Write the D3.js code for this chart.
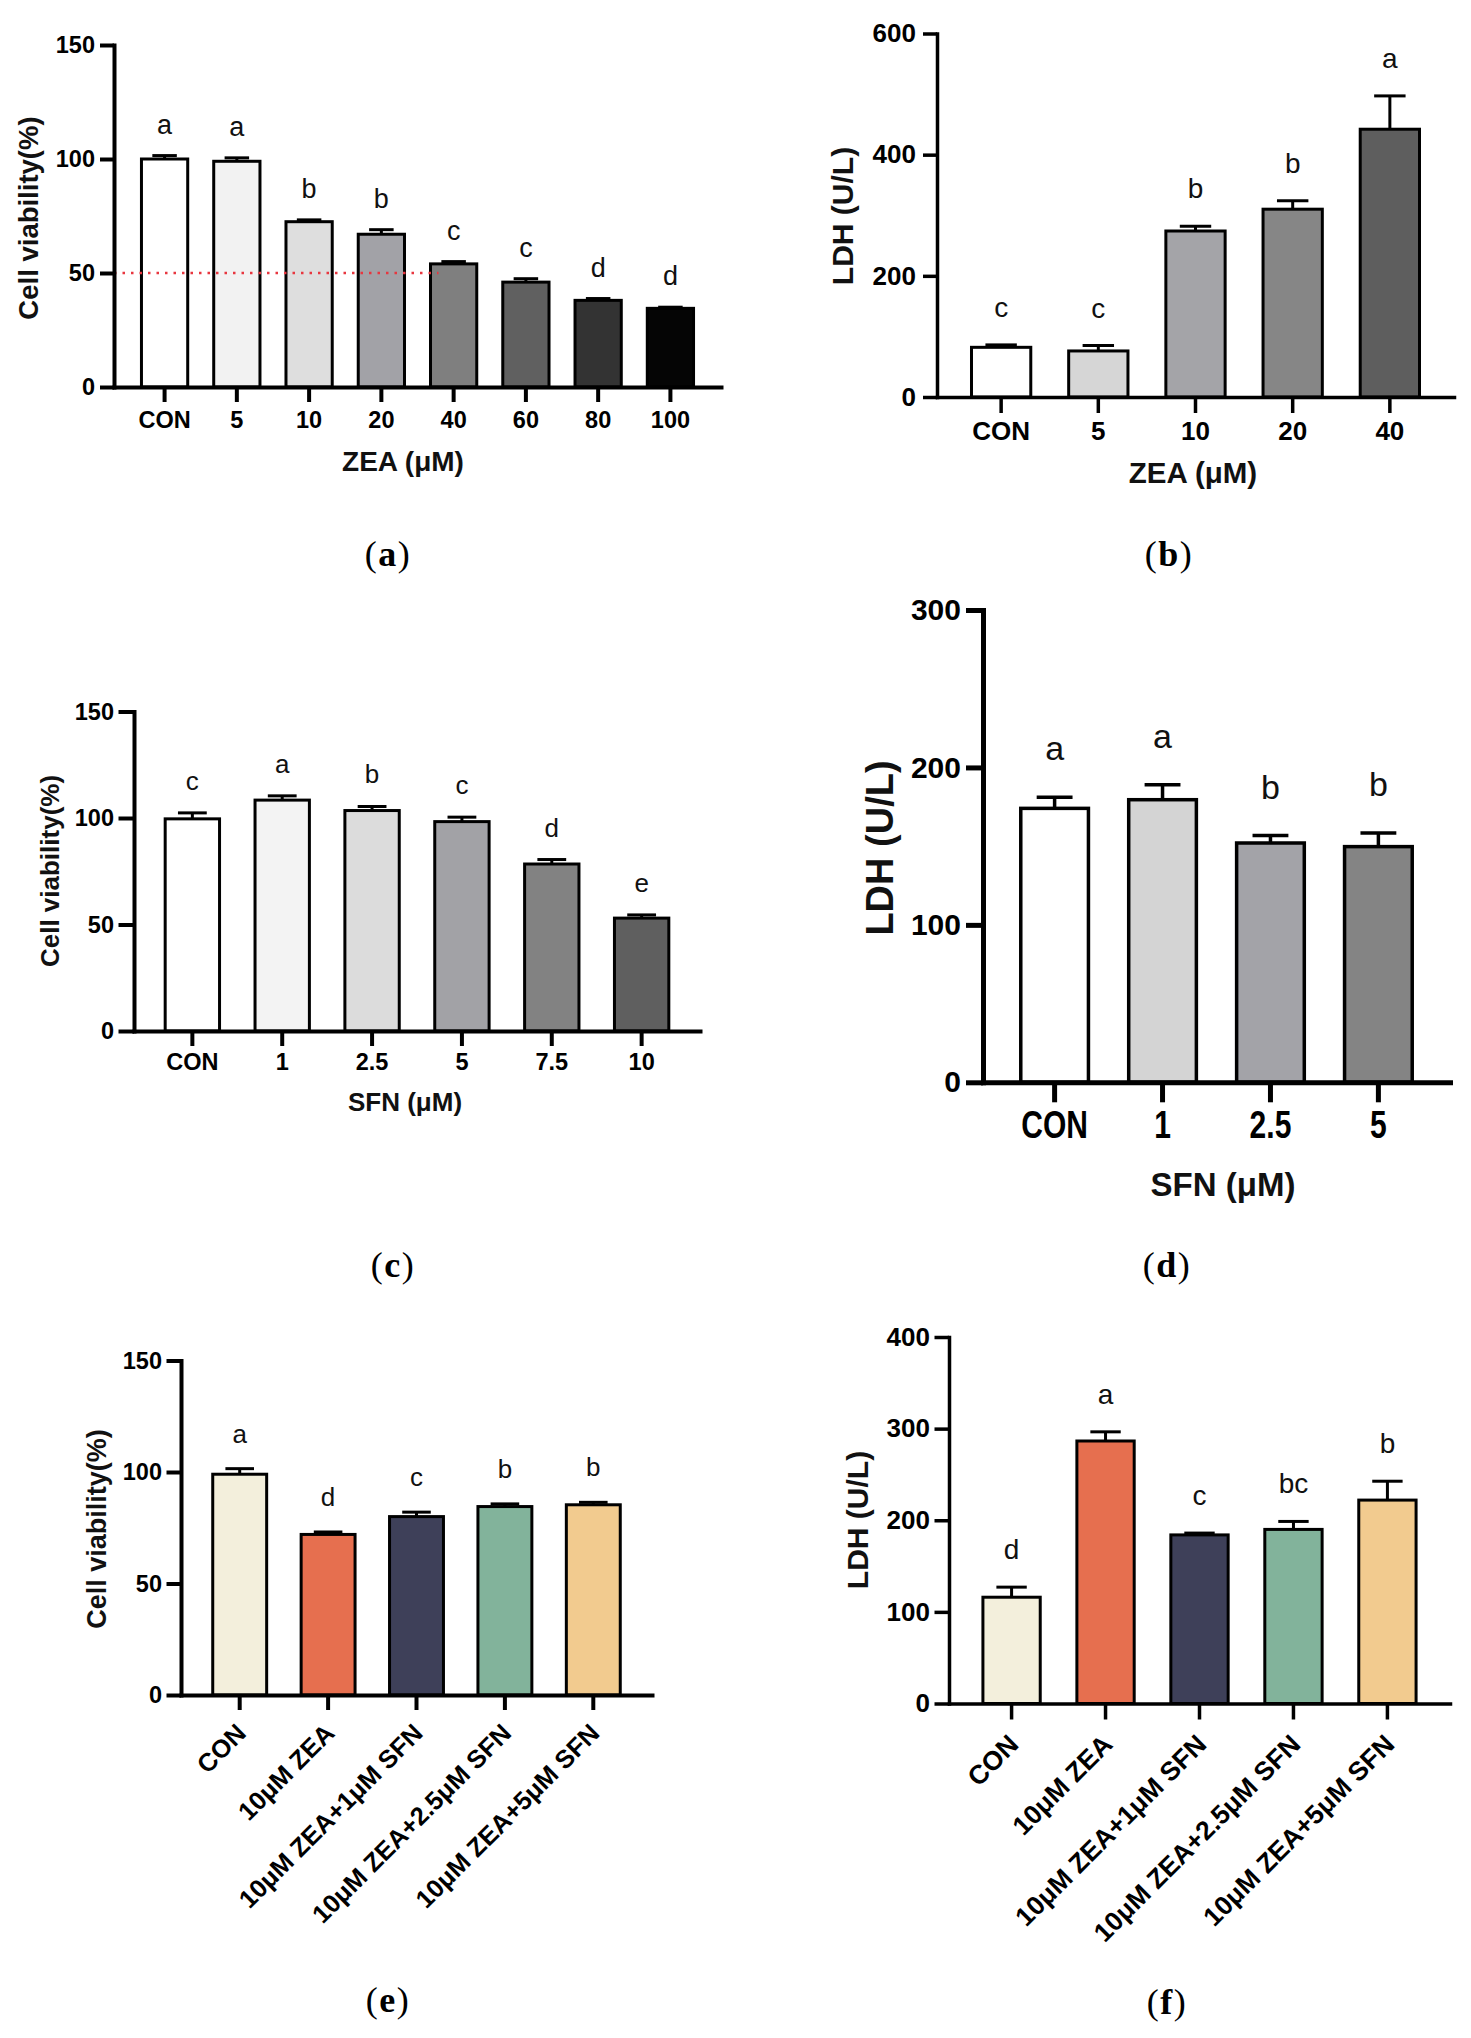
<!DOCTYPE html>
<html><head><meta charset="utf-8">
<script src="https://cdn.jsdelivr.net/npm/d3@7"></script>
<style>body{margin:0;background:#fff}svg{display:block}</style>
</head><body><svg id="fig" width="1471" height="2038"></svg>
<script>
// ---------- data ----------
const catsA = ["CON","5","10","20","40","60","80","100"];
const valsA = [100, 99, 72.5, 67, 54, 46, 38, 34.5];
const errsA = [1.5, 1.5, 0.8, 2, 1, 1.5, 0.8, 0.5];
const sigA  = ["a","a","b","b","c","c","d","d"];
const ticksA = [0, 50, 100, 150];
const refA = 50;

const catsB = ["CON","5","10","20","40"];
const valsB = [82, 76, 274, 310, 442];
const errsB = [4, 9, 8, 14, 55];
const sigB  = ["c","c","b","b","a"];
const ticksB = [0, 200, 400, 600];

const catsC = ["CON","1","2.5","5","7.5","10"];
const valsC = [99.6, 108.4, 103.5, 98.3, 78.4, 53];
const errsC = [2.8, 2, 1.9, 2.1, 2.1, 1.5];
const sigC  = ["c","a","b","c","d","e"];
const ticksC = [0, 50, 100, 150];

const catsD = ["CON","1","2.5","5"];
const valsD = [174, 179.5, 152, 149.7];
const errsD = [7, 9.5, 4.7, 8.7];
const sigD  = ["a","a","b","b"];
const ticksD = [0, 100, 200, 300];

const catsE = ["CON","10μM ZEA","10μM ZEA+1μM SFN","10μM ZEA+2.5μM SFN","10μM ZEA+5μM SFN"];
const valsE = [99, 72, 80, 84.5, 85.3];
const errsE = [2.5, 1.1, 2, 1.2, 1.1];
const sigE  = ["a","d","c","b","b"];
const ticksE = [0, 50, 100, 150];

const catsF = ["CON","10μM ZEA","10μM ZEA+1μM SFN","10μM ZEA+2.5μM SFN","10μM ZEA+5μM SFN"];
const valsF = [116, 286.5, 184, 190, 222];
const errsF = [11, 10, 2, 8.7, 20.6];
const sigF  = ["d","a","c","bc","b"];
const ticksF = [0, 100, 200, 300, 400];

// ---------- styles ----------
const greysA = ["#ffffff","#f2f2f2","#dedede","#a2a2a7","#7f7f7f","#606060","#333333","#050505"];
const greysB = ["#ffffff","#d6d6d6","#a4a4a8","#868686","#5e5e5e"];
const greysC = ["#ffffff","#f3f3f3","#dcdcdc","#a2a2a6","#828282","#5f5f5f"];
const greysD = ["#ffffff","#d4d4d4","#a3a3a8","#848484"];
const colorsEF = ["#f3efdc","#e66f4f","#3e4059","#82b39b","#f2cb8f"];

const SANS = "'Liberation Sans', Arial, Helvetica, sans-serif";
const SERIF = "'Liberation Serif', 'DejaVu Serif', 'Times New Roman', serif";

const svg = d3.select("#fig");
svg.append("rect").attr("width",1471).attr("height",2038).attr("fill","#fff");

function drawPanel(s, cats, vals, errs, sig, ticks, colors, refVal) {
  const g = svg.append("g");
  const x = d3.scaleBand().domain(cats).range([s.x0, s.x1]).paddingInner(s.pi).paddingOuter(s.po);
  const y = d3.scaleLinear().domain([0, d3.max(ticks)]).range([s.y0, s.yTop]);
  const data = cats.map((c,i)=>({c, v:vals[i], e:errs[i], s:sig[i], col:colors[i]}));
  const cx = d => x(d.c) + x.bandwidth()/2;

  // bars
  g.append("g").selectAll("rect").data(data).join("rect")
    .attr("x", d=>x(d.c)).attr("width", x.bandwidth())
    .attr("y", d=>y(d.v)).attr("height", d=>y(0)-y(d.v))
    .attr("fill", d=>d.col).attr("stroke","#000").attr("stroke-width", s.barW);

  // error bars
  const eb = g.append("g").attr("stroke","#000").attr("stroke-width", s.ebW);
  eb.selectAll("line.v").data(data).join("line").attr("class","v")
    .attr("x1",cx).attr("x2",cx).attr("y1",d=>y(d.v)).attr("y2",d=>y(d.v+d.e));
  const cap = x.bandwidth()*0.53/2;
  eb.selectAll("line.c").data(data).join("line").attr("class","c")
    .attr("x1",d=>cx(d)-cap).attr("x2",d=>cx(d)+cap).attr("y1",d=>y(d.v+d.e)).attr("y2",d=>y(d.v+d.e));

  // reference line
  if (refVal !== undefined) {
    g.append("line").attr("x1", s.x0).attr("x2", x(s.refEnd) + 8)
      .attr("y1", y(refVal)).attr("y2", y(refVal))
      .attr("stroke","#e8363f").attr("stroke-width",2.5).attr("stroke-dasharray","2.5,6");
  }

  // significance letters
  g.append("g").selectAll("text").data(data).join("text")
    .attr("x",cx).attr("y",d=>y(d.v+d.e)-s.sigOff)
    .attr("text-anchor","middle").attr("font-family",SANS).attr("font-size",s.sigFs)
    .attr("fill","#111").text(d=>d.s);

  // y axis
  const ya = g.append("g").attr("transform",`translate(${s.x0},0)`)
    .call(d3.axisLeft(y).tickValues(ticks).tickFormat(d3.format("d"))
      .tickSize(s.yTick).tickSizeOuter(0).tickPadding(s.yPad))
    .attr("font-family",SANS).attr("font-size",s.tickFs).attr("font-weight","bold");
  ya.select(".domain").attr("stroke-width",s.axW).attr("stroke-linecap","square");
  ya.selectAll(".tick line").attr("stroke-width",s.axW);

  // x axis
  const xa = g.append("g").attr("transform",`translate(0,${s.y0})`)
    .call(d3.axisBottom(x).tickSize(s.xTick).tickSizeOuter(0).tickPadding(s.xPad))
    .attr("font-family",SANS).attr("font-size",s.catFs).attr("font-weight","bold");
  xa.select(".domain").attr("stroke-width",s.axW).attr("stroke-linecap","square");
  xa.selectAll(".tick line").attr("stroke-width",s.axW);
  if (s.rot) {
    xa.selectAll(".tick text").attr("text-anchor","end").attr("x",0).attr("y",0).attr("dy","0.35em")
      .attr("transform",`translate(${s.rotDx},${s.rotDy}) rotate(-45)`);
  }
  if (s.xStretch) {
    xa.selectAll(".tick text").attr("y",0).attr("dy","0.71em")
      .attr("transform",`translate(0,${s.xLblTop}) scale(1,${s.xStretch})`);
  }

  // y title
  g.append("text").attr("transform",`translate(${s.ytX},${s.ytY}) rotate(-90)`)
    .attr("text-anchor","middle").attr("dominant-baseline","central")
    .attr("font-family",SANS).attr("font-weight","bold").attr("font-size",s.ytFs)
    .attr("fill","#111").text(s.yTitle);

  // x title
  if (s.xTitle) {
    g.append("text").attr("x",s.xtX).attr("y",s.xtY)
      .attr("text-anchor","middle").attr("dominant-baseline","central")
      .attr("font-family",SANS).attr("font-weight","bold").attr("font-size",s.xtFs)
      .attr("fill","#111").text(s.xTitle);
  }

  // panel label
  const lbl = g.append("text").attr("x",s.lblX).attr("y",s.lblY).attr("text-anchor","middle")
    .attr("font-family",SERIF).attr("font-size",36).attr("letter-spacing",1.5).attr("fill","#000");
  lbl.append("tspan").text("(");
  lbl.append("tspan").attr("font-weight","bold").text(s.lbl);
  lbl.append("tspan").text(")");
}

drawPanel({x0:114,x1:721,y0:387,yTop:45,pi:0.36,po:0.38,yTick:14,yPad:5,xTick:15,xPad:9.8,
  axW:4,barW:3,ebW:3,tickFs:23.5,catFs:23.5,sigFs:27,sigOff:22,
  ytFs:27.5,ytX:28,ytY:218,yTitle:"Cell viability(%)",xtFs:28,xtX:403,xtY:461,xTitle:"ZEA (μM)",
  lblX:388,lblY:566,lbl:"a",refEnd:"40"}, catsA, valsA, errsA, sigA, ticksA, greysA, refA);

drawPanel({x0:937,x1:1454,y0:397,yTop:33.5,pi:0.39,po:0.355,yTick:14,yPad:7,xTick:16,xPad:8.5,
  axW:3.5,barW:3,ebW:3,tickFs:26,catFs:26,sigFs:28,sigOff:28,
  ytFs:30,ytX:842,ytY:216,yTitle:"LDH (U/L)",xtFs:29.5,xtX:1193,xtY:472,xTitle:"ZEA (μM)",
  lblX:1169,lblY:566,lbl:"b"}, catsB, valsB, errsB, sigB, ticksB, greysB);

drawPanel({x0:134,x1:700,y0:1031,yTop:711.5,pi:0.395,po:0.347,yTick:15.5,yPad:4.5,xTick:15,xPad:7.5,
  axW:4,barW:3,ebW:3,tickFs:23.5,catFs:23.5,sigFs:26,sigOff:23,
  ytFs:26,ytX:50,ytY:871,yTitle:"Cell viability(%)",xtFs:26,xtX:405,xtY:1102,xTitle:"SFN (μM)",
  lblX:393,lblY:1277,lbl:"c"}, catsC, valsC, errsC, sigC, ticksC, greysC);

drawPanel({x0:983,x1:1450,y0:1082.3,yTop:610,pi:0.373,po:0.35,yTick:17,yPad:5,xTick:20,xPad:0,
  xStretch:1.3,xLblTop:27.7,
  axW:5,barW:3.5,ebW:3.5,tickFs:30,catFs:30,sigFs:34,sigOff:37,
  ytFs:38,ytX:880,ytY:848,yTitle:"LDH (U/L)",xtFs:33,xtX:1223,xtY:1184,xTitle:"SFN (μM)",
  lblX:1167,lblY:1277,lbl:"d"}, catsD, valsD, errsD, sigD, ticksD, greysD);

drawPanel({x0:181,x1:652,y0:1695,yTop:1360.5,pi:0.39,po:0.359,yTick:14.5,yPad:4.5,xTick:15,xPad:0,
  rot:true,rotDx:1.5,rotDy:33.5,
  axW:4,barW:3,ebW:3,tickFs:23.5,catFs:25.5,sigFs:26,sigOff:26,
  ytFs:27,ytX:97,ytY:1529,yTitle:"Cell viability(%)",
  lblX:388,lblY:2012,lbl:"e"}, catsE, valsE, errsE, sigE, ticksE, colorsEF);

drawPanel({x0:949,x1:1450,y0:1703.5,yTop:1337,pi:0.39,po:0.361,yTick:14.5,yPad:4.5,xTick:16,xPad:0,
  rot:true,rotDx:2,rotDy:36,
  axW:3.5,barW:3,ebW:3,tickFs:26,catFs:26.5,sigFs:28,sigOff:28,
  ytFs:30,ytX:857.5,ytY:1520,yTitle:"LDH (U/L)",
  lblX:1167,lblY:2014,lbl:"f"}, catsF, valsF, errsF, sigF, ticksF, colorsEF);
</script>
</body></html>
